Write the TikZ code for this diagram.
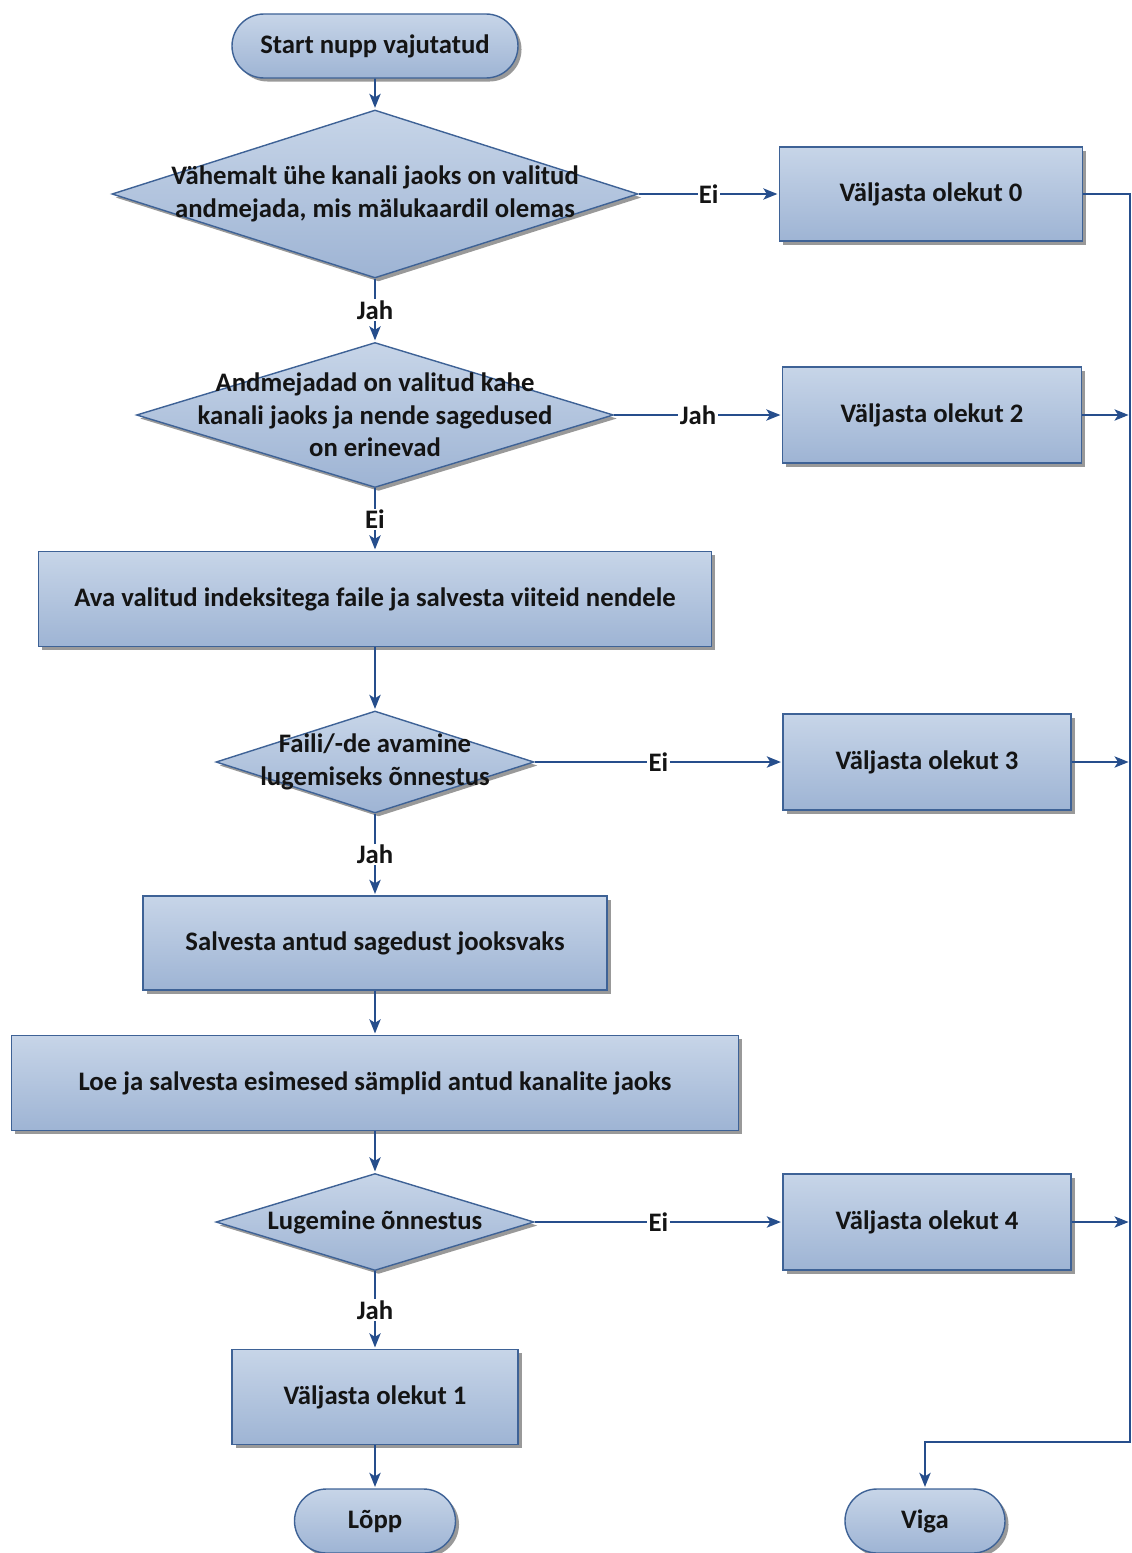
\documentclass[tikz,border=0pt]{standalone}
\usepackage{fontspec}
\setmainfont{Carlito}
\usetikzlibrary{arrows.meta,positioning,shapes.geometric,shapes.misc,shadows}

\definecolor{boxtop}{RGB}{199,213,232}
\definecolor{boxbot}{RGB}{158,180,212}
\definecolor{boxline}{RGB}{62,98,150}
\definecolor{flowline}{RGB}{38,78,140}
\definecolor{txtcol}{RGB}{20,20,20}

\begin{document}
\begin{tikzpicture}[->,>={Stealth[length=10pt,width=8pt,inset=2.5pt]},shorten >=1pt,line width=1.4pt,
		font=\bfseries\fontsize{19}{23}\selectfont,
		base/.style={draw=boxline,line width=1pt,top color=boxtop,bottom color=boxbot,
			text=txtcol,align=center,inner sep=0pt,
			drop shadow={shadow xshift=2.5pt,shadow yshift=-2.5pt,fill=black!40,opacity=1}},
		proc node/.style={base,rectangle},
		term node/.style={base,rounded rectangle},
		dec node/.style={base,diamond},
		lbl/.style={fill=white,inner sep=1pt,text=txtcol}]
		
		\useasboundingbox (-9.375,1.15) rectangle (18.9,-37.675);
		
		\node[term node,minimum width=7.15cm,minimum height=1.6cm] (start) {Start nupp vajutatud};
		\node[dec node,minimum width=13.15cm,minimum height=4.2cm,below of=start,node distance=3.7cm,
			label={[align=center,text=txtcol]center:{Vähemalt ühe kanali jaoks on valitud\\andmejada, mis mälukaardil olemas}}] (d1) {};
		\node[proc node,minimum width=7.575cm,minimum height=2.35cm,right of=d1,node distance=13.9cm] (o0) {Väljasta olekut 0};
		\node[dec node,minimum width=11.925cm,minimum height=3.625cm,below of=d1,node distance=5.525cm,
			label={[align=center,text=txtcol]center:{Andmejadad on valitud kahe\\kanali jaoks ja nende sagedused\\on erinevad}}] (d2) {};
		\node[proc node,minimum width=7.475cm,minimum height=2.4cm,right of=d2,node distance=13.925cm] (o2) {Väljasta olekut 2};
		\node[proc node,minimum width=16.825cm,minimum height=2.375cm,below of=d2,node distance=4.6cm] (ava) {Ava valitud indeksitega faile ja salvesta viiteid nendele};
		\node[dec node,minimum width=7.95cm,minimum height=2.55cm,below of=ava,node distance=4.075cm,
			label={[align=center,text=txtcol]center:{Faili/-de avamine\\lugemiseks õnnestus}}] (d3) {};
		\node[proc node,minimum width=7.2cm,minimum height=2.4cm,right of=d3,node distance=13.8cm] (o3) {Väljasta olekut 3};
		\node[proc node,minimum width=11.6cm,minimum height=2.35cm,below of=d3,node distance=4.525cm] (salv) {Salvesta antud sagedust jooksvaks};
		\node[proc node,minimum width=18.175cm,minimum height=2.375cm,below of=salv,node distance=3.5cm] (loe) {Loe ja salvesta esimesed sämplid antud kanalite jaoks};
		\node[dec node,minimum width=7.95cm,minimum height=2.425cm,below of=loe,node distance=3.475cm,
			label={[text=txtcol]center:Lugemine õnnestus}] (d4) {};
		\node[proc node,minimum width=7.2cm,minimum height=2.4cm,right of=d4,node distance=13.8cm] (o4) {Väljasta olekut 4};
		\node[proc node,minimum width=7.15cm,minimum height=2.375cm,below of=d4,node distance=4.375cm] (o1) {Väljasta olekut 1};
		\node[term node,minimum width=4.025cm,minimum height=1.6cm,below of=o1,node distance=3.1cm] (lopp) {Lõpp};
		\node[term node,minimum width=4cm,minimum height=1.6cm,right of=lopp,node distance=13.75cm] (viga) {Viga};
		\coordinate[above right=1.975cm and 5.125cm of viga.center] (bus);
		
		\path[every edge/.style={draw=flowline}]
		(start) edge (d1)
		(d1) edge node[lbl] {Ei} (o0)
		(d1) edge node[lbl] {Jah} (d2)
		(d2) edge node[lbl] {Jah} (o2)
		(d2) edge node[lbl] {Ei} (ava)
		(ava) edge (d3)
		(d3) edge node[lbl] {Ei} (o3)
		(d3) edge node[lbl] {Jah} (salv)
		(salv) edge (loe)
		(loe) edge (d4)
		(d4) edge node[lbl] {Ei} (o4)
		(d4) edge node[lbl] {Jah} (o1)
		(o1) edge (lopp);
		
		% error outputs go to the right-hand line
		\draw[flowline] (o0.east) -| (bus) -| (viga.north);
		\foreach \n in {o2,o3,o4}
		\draw[flowline] (\n.east) -- (\n.east -| bus);
\end{tikzpicture}
\end{document}
